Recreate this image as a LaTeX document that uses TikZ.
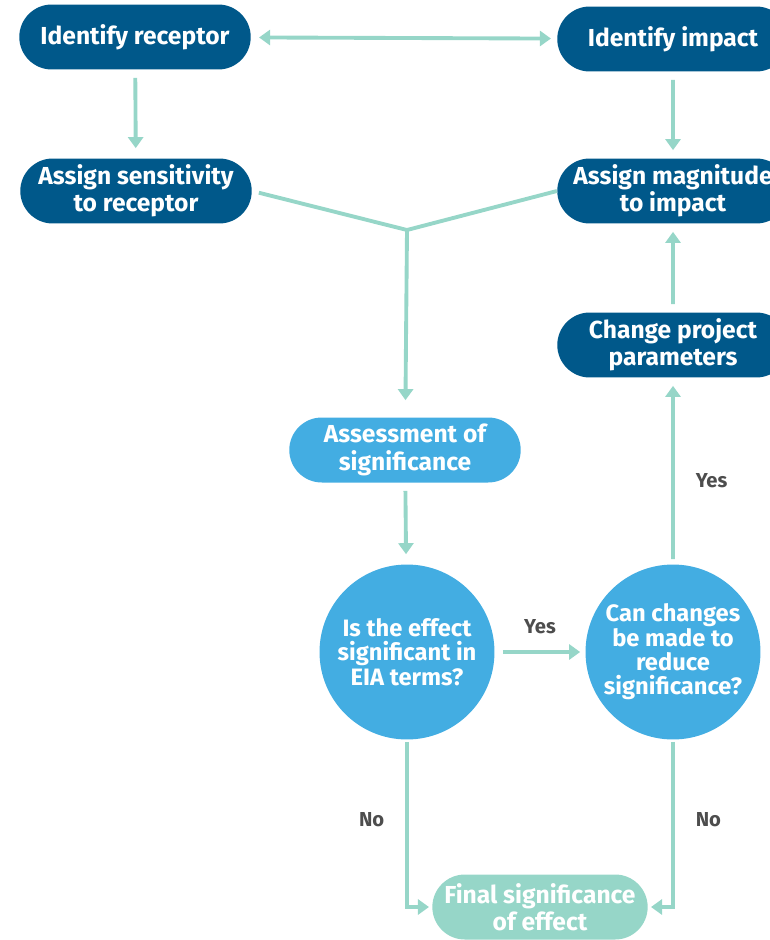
\documentclass[tikz,border=0pt]{standalone}
\usepackage{fontspec}
\setmainfont{Fira Sans}
\usetikzlibrary{arrows.meta,shapes.misc}

\definecolor{darkblue}{RGB}{0,88,138}
\definecolor{lightblue}{RGB}{67,173,226}
\definecolor{mint}{RGB}{150,214,200}
\definecolor{labelgray}{RGB}{77,77,77}

\tikzset{
  pill/.style={rounded rectangle, fill=darkblue, text=white, align=center,
    font=\bfseries\fontsize{14}{15.5}\selectfont,
    minimum width=4.7cm, minimum height=1.3cm, inner sep=1pt},
  question/.style={circle, fill=lightblue, text=white, align=center,
    font=\bfseries\fontsize{13.5}{13.8}\selectfont,
    minimum size=3.5cm, inner sep=0pt},
  flow/.style={draw=mint, line width=2.2pt,
    -{Triangle[width=0.3cm,length=0.22cm]}},
  answer/.style={text=labelgray, font=\bfseries\fontsize{11.5}{13}\selectfont}
}

\begin{document}
\begin{tikzpicture}[x=0.02cm, y=-0.02cm]
\useasboundingbox (0, 0) rectangle (769, 940);

\node[pill] (receptor) at (135, 37) {Identify receptor};
\node[pill] (impact) at (673, 39) {Identify impact};
\node[pill] (sensitivity) at (136, 191) {Assign sensitivity\\to receptor};
\node[pill] (magnitude) at (673, 191) {Assign magnitude\\to impact};
\node[pill] (change) at (673, 345) {Change project\\parameters};
\node[pill, fill=lightblue] (assess) at (405, 450) {Assessment of\\significance};
\node[question] (effect) at (407, 652) {Is the effect\\significant in\\EIA terms?};
\node[question] (reduce) at (673, 652) {Can changes\\be made to\\reduce\\significance?};
\node[pill, fill=mint, minimum width=4.2cm] (final) at (540, 907) {Final significance\\of effect};

\coordinate (join) at (407, 230);

\draw[flow, {Triangle[width=0.3cm,length=0.22cm]}-{Triangle[width=0.3cm,length=0.22cm]},
  shorten <=0.16cm, shorten >=0.12cm] (receptor) -- (impact);
\draw[flow, shorten <=0.16cm, shorten >=0.2cm] (receptor) -- (sensitivity);
\draw[flow, shorten <=0.16cm, shorten >=0.16cm] (impact) -- (magnitude);

\draw[draw=mint, line width=2.2pt, line join=bevel, shorten <=0.14cm]
  (sensitivity.east) -- (join) -- (magnitude.west);
\draw[flow, shorten >=0.34cm] (join) -- (assess);

\draw[flow, shorten <=0.16cm, shorten >=0.2cm] (assess) -- (effect);
\draw[flow, shorten <=0.16cm, shorten >=0.1cm] (effect) -- node[answer, above=0.2cm] {Yes} (reduce);
\draw[flow, shorten <=0.1cm, shorten >=0.16cm] (reduce) -- node[answer, right=0.3cm, pos=0.45] {Yes} (change);
\draw[flow, shorten <=0.16cm, shorten >=0.16cm] (change) -- (magnitude);

\draw[flow, shorten <=0.04cm, shorten >=0.06cm] (effect.south) |- node[answer, left=0.3cm, pos=0.24] {No} (final.west);
\draw[flow, shorten <=0.04cm, shorten >=0.06cm] (reduce.south) |- node[answer, right=0.3cm, pos=0.24] {No} (final.east);
\end{tikzpicture}
\end{document}
